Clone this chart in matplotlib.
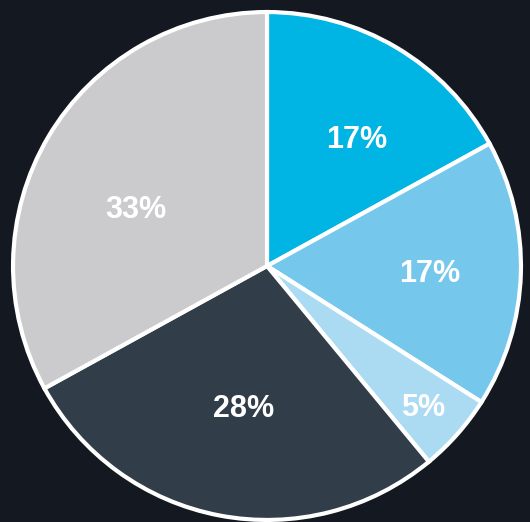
import matplotlib.pyplot as plt
import numpy as np

plt.rcParams['font.family'] = ['Liberation Sans', 'DejaVu Sans']

# 份額 (順時針, 從正上方開始)
shares = [17, 17, 5, 28, 33]
labels = ['17%', '17%', '5%', '28%', '33%']
colors = ['#00b4e3', '#75c7ec', '#abdbf3', '#313d48', '#cbcbce']
label_r = [0.61, 0.64, 0.83, 0.57, 0.56]
label_shift = [-5, -1, -1, 1.3, 7.6]  # 度


def main():
    fig = plt.figure(figsize=(5.30, 5.22), dpi=100)
    fig.patch.set_facecolor('#141820')
    ax = fig.add_axes([10.5 / 530, -0.5 / 522, 513 / 530, 513 / 522])
    ax.set_facecolor('#141820')

    wedges, _ = ax.pie(shares, colors=colors, startangle=90, counterclock=False,
                       wedgeprops=dict(edgecolor='white', linewidth=3.0))

    # 標籤放在扇形中線附近
    total = sum(shares)
    start = 90.0
    for v, txt, r, sh in zip(shares, labels, label_r, label_shift):
        mid = np.deg2rad(start - v / total * 360 / 2 + sh)
        ax.text(r * np.cos(mid), r * np.sin(mid), txt, ha='center', va='center',
                color='white', fontsize=22, fontweight='bold')
        start -= v / total * 360

    ax.set_xlim(-1.01, 1.01)
    ax.set_ylim(-1.01, 1.01)
    ax.set_aspect('equal')
    ax.axis('off')
    fig.savefig('out.png', dpi=100, facecolor=fig.get_facecolor())


if __name__ == '__main__':
    main()
